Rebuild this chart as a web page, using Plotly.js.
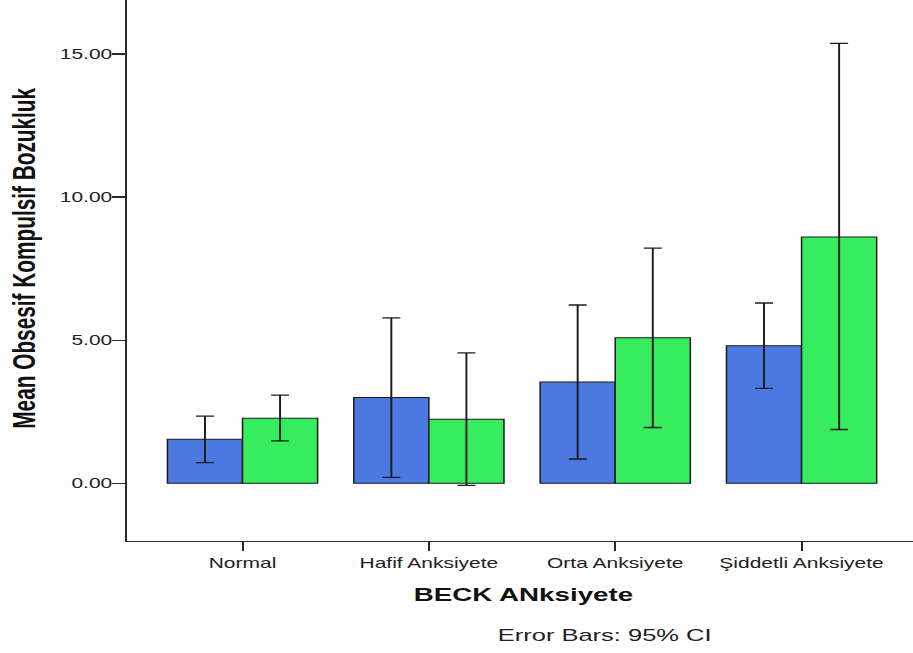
<!DOCTYPE html>
<html>
<head>
<meta charset="utf-8">
<script src="https://cdn.plot.ly/plotly-3.0.1.min.js"></script>
<style>
  html, body { margin: 0; padding: 0; background: #ffffff; overflow: hidden; }
  #wrap { width: 913px; height: 653px; overflow: hidden; }
  /* SPSS export is rendered wide: draw at 609px and stretch horizontally */
  #chart { width: 609px; height: 653px; transform: scaleX(1.4992); transform-origin: 0 0; }
</style>
</head>
<body>
<div id="wrap"><div id="chart"></div></div>
<script>
// BECK anxiety groups
const categories = ['Normal', 'Hafif Anksiyete', 'Orta Anksiyete', 'Şiddetli Anksiyete'];

// Mean obsessive-compulsive score and 95% CI bounds, first group (blue)
const meansA = [1.54, 3.00, 3.54, 4.81];
const lowerA = [0.72, 0.21, 0.85, 3.32];
const upperA = [2.35, 5.78, 6.23, 6.30];

// Second group (green)
const meansB = [2.27, 2.24, 5.09, 8.61];
const lowerB = [1.48, -0.07, 1.95, 1.88];
const upperB = [3.08, 4.56, 8.22, 15.37];

const yTicks = [0, 5, 10, 15];
const yTickLabels = ['0.00', '5.00', '10.00', '15.00'];

function errBar(means, lower, upper) {
  return {
    type: 'data',
    symmetric: false,
    array: upper.map((u, i) => u - means[i]),
    arrayminus: means.map((m, i) => m - lower[i]),
    color: '#1c1c1c',
    thickness: 1.3,
    width: 6
  };
}

const traces = [
  {
    type: 'bar', name: 'Grup 1', x: categories, y: meansA,
    marker: { color: '#4b78e1', line: { color: '#1a1a1a', width: 1 } },
    error_y: errBar(meansA, lowerA, upperA)
  },
  {
    type: 'bar', name: 'Grup 2', x: categories, y: meansB,
    marker: { color: '#37ec5e', line: { color: '#1a1a1a', width: 1 } },
    error_y: errBar(meansB, lowerB, upperB)
  }
];

const layout = {
  width: 609, height: 653,
  margin: { l: 85.4, r: 0, t: 0, b: 112 },
  paper_bgcolor: '#ffffff', plot_bgcolor: '#ffffff',
  barmode: 'group', bargap: 0.194, bargroupgap: 0,
  showlegend: false,
  font: { family: 'Liberation Sans, Arial, sans-serif', color: '#1e1e1e' },
  xaxis: {
    type: 'category',
    range: [-0.6176, 3.598],
    showline: true, linecolor: '#2a2a2a', linewidth: 1.3,
    ticks: 'outside', ticklen: 9, tickwidth: 1.3, tickcolor: '#2a2a2a',
    tickfont: { size: 14, color: '#222' },
    showgrid: false, zeroline: false, fixedrange: true
  },
  yaxis: {
    range: [-2.016, 16.887],
    tickvals: yTicks, ticktext: yTickLabels,
    showline: true, linecolor: '#2a2a2a', linewidth: 1.3,
    ticks: 'outside', ticklen: 9, tickwidth: 1.3, tickcolor: '#2a2a2a',
    ticklabelstandoff: -3,
    tickfont: { size: 14, color: '#222' },
    showgrid: false, zeroline: false, fixedrange: true
  },
  annotations: [
    {
      text: '<b>Mean Obsesif Kompulsif Bozukluk</b>',
      textangle: -90, xref: 'paper', yref: 'paper',
      x: -0.1323, y: 0.523, xanchor: 'center', yanchor: 'middle',
      showarrow: false, font: { size: 20.8, color: '#111' }
    },
    {
      text: '<b>BECK ANksiyete</b>',
      xref: 'paper', yref: 'paper', x: 0.503, y: -0.098,
      xanchor: 'center', yanchor: 'middle',
      showarrow: false, font: { size: 18.5, color: '#111' }
    },
    {
      text: 'Error Bars: 95% CI',
      xref: 'paper', yref: 'paper', x: 0.607, y: -0.1756,
      xanchor: 'center', yanchor: 'middle',
      showarrow: false, font: { size: 17, color: '#222' }
    }
  ]
};

Plotly.newPlot('chart', traces, layout, { staticPlot: true, displayModeBar: false });
</script>
</body>
</html>
